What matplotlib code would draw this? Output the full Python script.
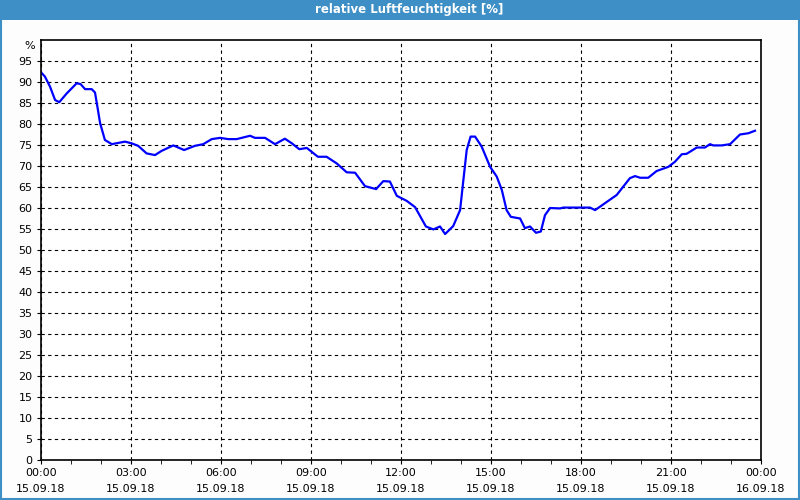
import matplotlib
matplotlib.use("Agg")
import matplotlib.pyplot as plt
from matplotlib.patches import Rectangle

# time in hours since 15.09.18 00:00, relative humidity in %
hours = [0.0, 0.13, 0.30, 0.47, 0.61, 0.86, 1.19, 1.32, 1.47, 1.69, 1.80, 1.88, 1.97,
         2.13, 2.36, 2.58, 2.80, 3.02, 3.24, 3.52, 3.80, 4.02, 4.41, 4.77, 5.13, 5.41,
         5.69, 5.97, 6.24, 6.52, 6.97, 7.13, 7.47, 7.80, 8.13, 8.36, 8.61, 8.86, 9.23,
         9.52, 9.86, 10.19, 10.47, 10.80, 11.17, 11.41, 11.63, 11.86, 12.19, 12.47,
         12.83, 13.08, 13.30, 13.47, 13.74, 13.97, 14.08, 14.19, 14.32, 14.47, 14.69,
         14.97, 15.19, 15.36, 15.52, 15.66, 15.97, 16.13, 16.30, 16.50, 16.66, 16.80,
         16.97, 17.30, 17.41, 18.30, 18.47, 18.63, 19.19, 19.63, 19.80, 19.97, 20.24,
         20.52, 20.91, 21.13, 21.36, 21.52, 21.86, 22.13, 22.30, 22.41, 22.69, 22.97,
         23.30, 23.58, 23.80]
humidity = [92.3, 91.3, 88.9, 85.7, 85.2, 87.3, 89.7, 89.5, 88.3, 88.3, 87.5, 84.1, 80.2,
            76.2, 75.2, 75.5, 75.8, 75.4, 74.8, 73.0, 72.6, 73.6, 74.9, 73.8, 74.8, 75.2,
            76.4, 76.7, 76.4, 76.4, 77.2, 76.7, 76.7, 75.2, 76.5, 75.4, 74.0, 74.3, 72.2,
            72.2, 70.6, 68.5, 68.4, 65.2, 64.5, 66.4, 66.3, 62.9, 61.7, 60.2,
            55.6, 54.9, 55.6, 53.8, 55.7, 59.5, 66.7, 73.8, 77.0, 77.0, 74.6,
            69.8, 67.5, 64.3, 59.5, 57.9, 57.5, 55.2, 55.6, 54.1, 54.4, 58.3,
            60.0, 59.9, 60.1, 60.1, 59.5, 60.3, 63.1, 67.1, 67.6, 67.2, 67.2,
            68.8, 69.8, 71.0, 72.8, 72.9, 74.4, 74.4, 75.2, 74.9, 74.9, 75.2,
            77.5, 77.8, 78.4]

tick_hours = [0, 3, 6, 9, 12, 15, 18, 21, 24]
tick_labels = ["00:00\n15.09.18", "03:00\n15.09.18", "06:00\n15.09.18", "09:00\n15.09.18",
               "12:00\n15.09.18", "15:00\n15.09.18", "18:00\n15.09.18", "21:00\n15.09.18",
               "00:00\n16.09.18"]

fig = plt.figure(figsize=(8, 5), dpi=100)
fig.patch.set_facecolor("#fcfdfc")

# title bar and window frame
fig.patches.append(Rectangle((0, 0.96), 1, 0.04, transform=fig.transFigure,
                             facecolor="#3d8fc6", edgecolor="none"))
fig.patches.append(Rectangle((0.001, 0.002), 0.998, 0.997, transform=fig.transFigure,
                             facecolor="none", edgecolor="#3d8fc6", linewidth=1.5))
fig.text(0.512, 0.98, "relative Luftfeuchtigkeit [%]", color="white", fontsize=8.5,
         fontweight="bold", ha="center", va="center")

ax = fig.add_axes([0.05125, 0.08, 0.9, 0.84])
ax.set_facecolor("white")
ax.plot(hours, humidity, color="#0000ff", linewidth=1.6)

ax.set_xlim(0, 24)
ax.set_ylim(0, 100)
ax.set_xticks(tick_hours)
ax.set_xticklabels(tick_labels, fontsize=8, linespacing=1.7)
ax.set_xticks(range(25), minor=True)
ax.set_yticks(range(0, 100, 5))
ax.tick_params(axis="y", labelsize=8, length=3, pad=3)
ax.tick_params(axis="x", which="both", length=3, pad=3)
ax.grid(True, color="black", linestyle=(0, (3, 3)), linewidth=0.8)
for s in ax.spines.values():
    s.set_linewidth(1.2)

ax.text(-0.008, 0.985, "%", transform=ax.transAxes, ha="right", va="center", fontsize=8)

fig.savefig("out.png", dpi=100, facecolor=fig.get_facecolor())
